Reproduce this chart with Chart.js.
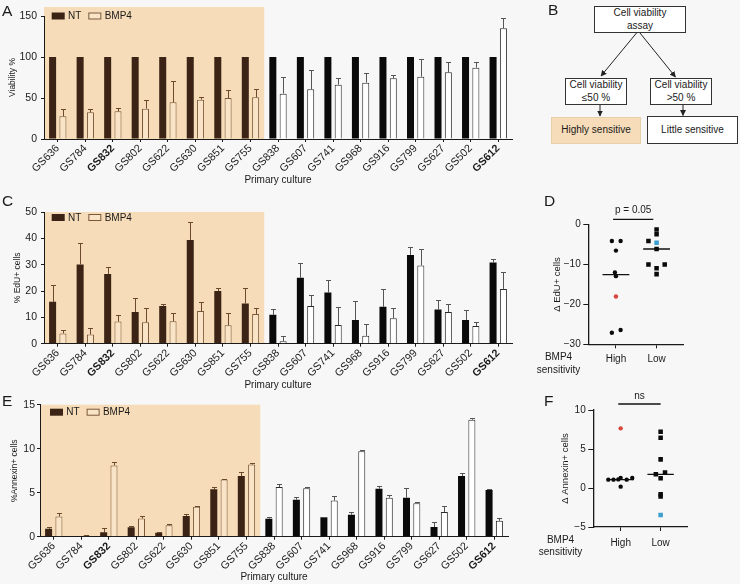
<!DOCTYPE html>
<html><head><meta charset="utf-8">
<script src="https://cdn.jsdelivr.net/npm/chart.js@4.4.0/dist/chart.umd.min.js"></script>
<style>
html,body{margin:0;padding:0;background:#f7f7f7;}
#wrap{position:relative;width:740px;height:584px;overflow:hidden;font-family:"Liberation Sans",Arial,Helvetica,sans-serif;color:#1a1a1a;}
canvas{position:absolute;}
.pl{position:absolute;font-size:15.5px;line-height:1;}
.box{position:absolute;border:1px solid #333;box-sizing:border-box;font-size:10px;line-height:1.24;text-align:center;display:flex;align-items:center;justify-content:center;background:#fff;}
.sens{position:absolute;font-size:10px;line-height:13px;text-align:center;width:60px;}
</style></head>
<body><div id="wrap">
<canvas id="cA" width="520" height="192" style="left:0;top:0"></canvas>
<canvas id="cC" width="520" height="200" style="left:0;top:196px"></canvas>
<canvas id="cE" width="516" height="192" style="left:0;top:392px"></canvas>
<canvas id="cD" width="210" height="190" style="left:530px;top:196px"></canvas>
<canvas id="cF" width="210" height="192" style="left:530px;top:392px"></canvas>

<div class="pl" style="left:2px;top:3px">A</div>
<div class="pl" style="left:548px;top:1.5px">B</div>
<div class="pl" style="left:2px;top:193px">C</div>
<div class="pl" style="left:544px;top:193px">D</div>
<div class="pl" style="left:2px;top:393px">E</div>
<div class="pl" style="left:544px;top:393px">F</div>

<div class="box" style="left:594px;top:6px;width:92px;height:27px">Cell viability<br>assay</div>
<div class="box" style="left:565px;top:78px;width:62px;height:27px">Cell viability<br>≤50 %</div>
<div class="box" style="left:650px;top:78px;width:62px;height:27px">Cell viability<br>&gt;50 %</div>
<div class="box" style="left:551px;top:117px;width:90px;height:27px;background:#f6dcb8;border-color:#ead0aa">Highly sensitive</div>
<div class="box" style="left:647px;top:116px;width:91px;height:28px">Little sensitive</div>
<svg style="position:absolute;left:0;top:0" width="740" height="584">
<defs><marker id="ah" markerWidth="6" markerHeight="6" refX="5.5" refY="3" orient="auto" markerUnits="userSpaceOnUse"><path d="M0,0 L6,3 L0,6 z" fill="#222"/></marker></defs>
<line x1="636.5" y1="33" x2="601" y2="76" stroke="#222" stroke-width="1" marker-end="url(#ah)"/>
<line x1="640" y1="33" x2="675.5" y2="77" stroke="#222" stroke-width="1" marker-end="url(#ah)"/>
<line x1="600" y1="105" x2="600" y2="116" stroke="#222" stroke-width="1" marker-end="url(#ah)"/>
<line x1="683" y1="105" x2="683" y2="115.5" stroke="#222" stroke-width="1" marker-end="url(#ah)"/>
</svg>

<div class="sens" style="left:528.5px;top:350px">BMP4<br>sensitivity</div>
<div class="sens" style="left:530.5px;top:534px;line-height:12px">BMP4<br>sensitivity</div>
</div>
<script>
// ---------------- data ----------------
const cultures = ['GS636','GS784','GS832','GS802','GS622','GS630','GS851','GS755','GS838','GS607','GS741','GS968','GS916','GS799','GS627','GS502','GS612'];
const boldCultures = ['GS832','GS612'];
const highlySensitiveCultures = ['GS636','GS784','GS832','GS802','GS622','GS630','GS851','GS755'];
const seriesNames = ['NT','BMP4'];

const viabilityNT      = [100,100,100,100,100,100,100,100,100,100,100,100,100,100,100,100,100];
const viabilityBMP4    = [27.6,32.5,33.7,37,44.7,48,50,50.8,55.3,60.6,66.3,68.7,74,76,81.3,87,135];
const viabilityBMP4Err = [9.5,4.5,3.5,10,26,3,10,10.5,20,24,8,12,4,21.5,13,6.5,12];

const eduNT      = [15.9,30.1,26.5,12,14.3,39.4,20,15.3,11,25,19.4,9,14,33.7,13,9,30.8];
const eduNTErr   = [6.4,8.3,2.6,5.2,0.9,6.8,1,5.7,2.2,5.5,4.6,7.2,6.6,3.1,3.6,3.7,1.2];
const eduBMP4    = [3.9,3.5,8.4,8.1,8.5,12.4,7,11.3,0.9,14.3,7.1,3,9.7,29.7,12,6.7,20.8];
const eduBMP4Err = [1.2,2.3,2.4,5.6,3.3,3.5,4.5,2.1,2,4.1,6.7,4.3,3.7,6.1,2.9,1.4,6.4];

const annexinNT      = [0.9,0,0.5,1.06,0.45,2.35,5.4,6.9,2.05,4.2,2.2,2.5,5.45,4.43,1.1,6.9,5.3];
const annexinNTErr   = [0.2,0,0.5,0.14,0.08,0.19,0.3,0.45,0.22,0.35,0.07,0.3,0.31,1.07,0.53,0.3,0.1];
const annexinBMP4    = [2.3,0.15,8.1,2.08,1.29,3.4,6.5,8.2,5.64,5.5,4.1,9.7,4.43,3.8,2.8,13.3,1.8];
const annexinBMP4Err = [0.35,0.05,0.35,0.32,0.11,0.12,0.1,0.2,0.31,0.2,0.5,0.2,0.27,0.1,0.7,0.15,0.36];

const sensitivityGroups = ['High','Low'];
// Panel D: delta EdU+ cells (x = horizontal position: High group at 1, Low group at 2)
const dEduHighX = [0.9,1.115,1.0,0.975,1.0,1.0,0.9,1.115];
const dEduHighY = [-4.1,-4.1,-6.5,-12.0,-12.9,-18.0,-27.1,-26.4];
const dEduHighMarked = 5;               // GS832 (red)
const dEduLowX  = [2.0,2.0,1.8,2.0,2.0,1.8,2.2,2.0,2.0];
const dEduLowY  = [-1.2,-2.4,-4.1,-4.5,-6.1,-10,-10,-10.9,-12.4];
const dEduLowMarked = 3;                // GS612 (blue)
const dEduMedians = [-12.5,-6.1];
const dEduTicks = [0,-10,-20,-30];
const dEduSig = {text:'p = 0.05', y:1.34, x1:0.93, x2:1.92, textY:3.5};

// Panel F: delta Annexin+ cells
const dAnnHighX = [0.69,0.82,0.94,1.0,1.15,1.29,1.0,1.0];
const dAnnHighY = [1.07,1.07,1.1,1.3,1.07,1.28,0.17,7.65];
const dAnnHighMarked = 7;
const dAnnLowX  = [2,2,2,1.88,2.11,2,2,2,2];
const dAnnLowY  = [7.2,6.45,3.67,1.75,1.97,1.24,-0.8,-1.1,-3.46];
const dAnnLowMarked = 8;
const dAnnMedians = [1.07,1.75];
const dAnnTicks = [10,5,0,-5];
const dAnnSig = {text:'ns', y:10.77, x1:0.94, x2:2.0, textY:11.75};

// ---------------- styling ----------------
const FONT = '"Liberation Sans", Arial, Helvetica, sans-serif';
const COL = {shade:'#f6dcb8', ntIn:'#3b2415', ntOut:'#0a0a0a', bmpFillIn:'#f9e4c8', bmpBorderIn:'#7a5738',
  bmpFillOut:'#ffffff', bmpBorderOut:'#2a2a2a', errIn:'#6b4a30', errOut:'#555555', axis:'#1a1a1a', text:'#1a1a1a',
  red:'#d8453a', blue:'#3b9fd0'};
const isIn = c => highlySensitiveCultures.includes(c);
const lastInIndex = cultures.reduce((m,c,i)=> isIn(c)? i : m, -1);

const shadePlugin = {id:'shade', beforeDraw(chart, args, o){
  const {ctx, chartArea:a, scales:{x,y}} = chart;
  const xr = (x.getPixelForValue(o.lastIndex) + x.getPixelForValue(o.lastIndex+1))/2;
  const yt = y.getPixelForValue(o.top);
  ctx.save(); ctx.fillStyle = o.color; ctx.fillRect(a.left, yt, xr - a.left, a.bottom - yt); ctx.restore();
}};
const errPlugin = {id:'errbars', afterDatasetsDraw(chart){
  const {ctx, scales:{y}} = chart;
  chart.data.datasets.forEach((ds, di) => {
    if (!ds.errors) return;
    chart.getDatasetMeta(di).data.forEach((el, i) => {
      const e = ds.errors[i]; if (!e) return;
      const yt = Math.round(y.getPixelForValue(ds.data[i] + e)) + 0.5;
      const x = Math.round(el.x) + 0.5;
      ctx.save(); ctx.strokeStyle = ds.errColors[i]; ctx.lineWidth = 1;
      ctx.beginPath(); ctx.moveTo(x, el.y); ctx.lineTo(x, yt);
      ctx.moveTo(x - 2.5, yt); ctx.lineTo(x + 2.5, yt); ctx.stroke(); ctx.restore();
    });
  });
}};
const legendPlugin = {id:'miniLegend', afterDraw(chart, args, o){
  const {ctx, chartArea:a} = chart;
  let x = a.left + o.dx; const yc = a.top + o.dy;
  ctx.save(); ctx.font = '10px ' + FONT; ctx.textBaseline = 'middle';
  chart.data.datasets.forEach(ds => {
    ctx.fillStyle = ds.legendFill; ctx.fillRect(x, yc - 3.5, 13, 7);
    if (ds.legendStroke){ ctx.strokeStyle = ds.legendStroke; ctx.lineWidth = 1; ctx.strokeRect(x + 0.5, yc - 3, 12, 6); }
    ctx.fillStyle = COL.text; ctx.fillText(ds.label, x + 16.3, yc + 0.5);
    x += 16.3 + ctx.measureText(ds.label).width + 7;
  });
  ctx.restore();
}};

function barPanel(id, c){
  new Chart(document.getElementById(id), {
    type:'bar',
    data:{labels:cultures, datasets:[
      {label:seriesNames[0], data:c.nt, errors:c.ntErr,
       backgroundColor:cultures.map(k => isIn(k) ? COL.ntIn : COL.ntOut), borderWidth:0,
       errColors:cultures.map(k => isIn(k) ? COL.errIn : COL.errOut),
       legendFill:COL.ntIn, categoryPercentage:0.75, barPercentage:0.68},
      {label:seriesNames[1], data:c.bmp, errors:c.bmpErr,
       backgroundColor:cultures.map(k => isIn(k) ? COL.bmpFillIn : COL.bmpFillOut),
       borderColor:cultures.map(k => isIn(k) ? COL.bmpBorderIn : COL.bmpBorderOut), borderWidth:1,
       errColors:cultures.map(k => isIn(k) ? COL.errIn : COL.errOut),
       legendFill:COL.bmpFillIn, legendStroke:COL.bmpBorderIn, categoryPercentage:0.75, barPercentage:0.68}
    ]},
    options:{responsive:false, animation:false, events:[],
      layout:{padding:{left:0, top:c.padTop, right:c.padRight, bottom:0}},
      plugins:{legend:{display:false}, tooltip:{enabled:false},
        shade:{lastIndex:lastInIndex, top:c.shadeTop, color:COL.shade},
        miniLegend:{dx:c.legDx, dy:c.legDy}},
      scales:{
        x:{grid:{display:true, drawOnChartArea:false, drawTicks:true, tickLength:3, offset:false, color:COL.axis},
           border:{color:COL.axis, width:1},
           ticks:{minRotation:45, maxRotation:45, autoSkip:false, padding:0, color:COL.text,
             font:(ctx) => ({family:FONT, size:10.8, weight: boldCultures.includes(cultures[ctx.index]) ? 'bold' : 'normal'})},
           title:{display:true, text:'Primary culture', color:COL.text, font:{family:FONT, size:10}, padding:{top:0, bottom:c.xTitlePad}},
           afterFit:(s) => { s.height = c.xH; s.paddingLeft = 0; s.paddingRight = 0; }},
        y:{min:0, max:c.max,
           ticks:{stepSize:c.step, padding:c.tickPad, color:COL.text, font:{family:FONT, size:10.5}},
           grid:{drawOnChartArea:false, drawTicks:true, tickLength:3, color:COL.axis},
           border:{color:COL.axis, width:1},
           title:{display:true, text:c.yTitle, color:COL.text, font:{family:FONT, size:8.5}, padding:{top:c.yTitlePad, bottom:0}},
           afterFit:(s) => { s.width = c.yW; s.paddingTop = 0; s.paddingBottom = 0; }}
      }},
    plugins:[shadePlugin, errPlugin, legendPlugin]
  });
}

barPanel('cA', {nt:viabilityNT, ntErr:null, bmp:viabilityBMP4, bmpErr:viabilityBMP4Err,
  max:150, step:50, yTitle:'Viability %', padTop:16, padRight:8, yW:44, xH:53, xTitlePad:6, yTitlePad:8,
  tickPad:4, shadeTop:161, legDx:7.7, legDy:0});
barPanel('cC', {nt:eduNT, ntErr:eduNTErr, bmp:eduBMP4, bmpErr:eduBMP4Err,
  max:50, step:10, yTitle:'% EdU+ cells', padTop:16, padRight:8, yW:44, xH:52.3, xTitlePad:5, yTitlePad:12.8,
  tickPad:4, shadeTop:50, legDx:7.7, legDy:5.5});
barPanel('cE', {nt:annexinNT, ntErr:annexinNTErr, bmp:annexinBMP4, bmpErr:annexinBMP4Err,
  max:15, step:5, yTitle:'%Annexin+ cells', padTop:12.7, padRight:8, yW:40, xH:47.3, xTitlePad:1, yTitlePad:10,
  tickPad:2, shadeTop:15, legDx:10, legDy:7.5});

const sigPlugin = {id:'sigText', afterDraw(chart, args, o){
  const {ctx, scales:{x,y}} = chart;
  ctx.save(); ctx.font = '10px ' + FONT; ctx.fillStyle = COL.text; ctx.textAlign = 'center'; ctx.textBaseline = 'middle';
  ctx.fillText(o.text, x.getPixelForValue((o.x1 + o.x2)/2), y.getPixelForValue(o.textY)); ctx.restore();
}};
const minus = v => v < 0 ? '\u2212' + Math.abs(v) : String(v);

function scatterPanel(id, c){
  const pts = (xs, ys) => xs.map((x, i) => ({x, y:ys[i]}));
  const med = (g, v) => [{x:g - 0.33, y:v}, {x:g + 0.33, y:v}];
  new Chart(document.getElementById(id), {
    type:'scatter',
    data:{datasets:[
      {data:pts(c.hx, c.hy), pointStyle:'circle', pointRadius:2.2, borderWidth:0,
       backgroundColor:(ctx) => ctx.dataIndex === c.hMark ? COL.red : '#0a0a0a'},
      {data:pts(c.lx, c.ly), pointStyle:'rect', pointRadius:3.2, borderWidth:0,
       backgroundColor:(ctx) => ctx.dataIndex === c.lMark ? COL.blue : '#0a0a0a'},
      {data:med(1, c.med[0]), showLine:true, borderColor:'#111', borderWidth:1.3, pointRadius:0},
      {data:med(2, c.med[1]), showLine:true, borderColor:'#111', borderWidth:1.3, pointRadius:0},
      {data:[{x:c.sig.x1, y:c.sig.y}, {x:c.sig.x2, y:c.sig.y}], showLine:true, borderColor:'#111', borderWidth:1.4, pointRadius:0, clip:false}
    ]},
    options:{responsive:false, animation:false, events:[],
      layout:{padding:{left:0, top:c.padTop, right:c.padRight, bottom:0}},
      plugins:{legend:{display:false}, tooltip:{enabled:false}, sigText:c.sig},
      scales:{
        x:{type:'linear', min:c.xmin, max:c.xmax,
           afterBuildTicks:(s) => { s.ticks = sensitivityGroups.map((g, i) => ({value:i + 1})); },
           ticks:{callback:(v, i) => sensitivityGroups[i], color:COL.text, font:{family:FONT, size:10}, padding:c.xTickPad},
           grid:{drawOnChartArea:false, drawTicks:true, tickLength:4, color:COL.axis},
           border:{color:COL.axis, width:1.3},
           afterFit:(s) => { s.height = c.xH; s.paddingLeft = 0; s.paddingRight = 0; }},
        y:{min:c.ymin, max:c.ymax,
           afterBuildTicks:(s) => { s.ticks = c.ticks.map(v => ({value:v})); },
           ticks:{callback:(v) => minus(v), color:COL.text, font:{family:FONT, size:10}, padding:2.6},
           grid:{drawOnChartArea:false, drawTicks:true, tickLength:5, color:COL.axis},
           border:{color:COL.axis, width:1.3},
           title:{display:true, text:c.yTitle, color:COL.text, font:{family:FONT, size:9.5}, padding:{top:c.yTitlePad, bottom:0}},
           afterFit:(s) => { s.width = c.yW; s.paddingTop = 0; s.paddingBottom = 0; }}
      }},
    plugins:[sigPlugin]
  });
}

scatterPanel('cD', {hx:dEduHighX, hy:dEduHighY, hMark:dEduHighMarked, lx:dEduLowX, ly:dEduLowY, lMark:dEduLowMarked,
  med:dEduMedians, sig:dEduSig, ticks:dEduTicks, ymin:-30, ymax:0, xmin:0.32, xmax:2.65,
  yTitle:'\u0394 EdU+ cells', padTop:28.7, padRight:57, yW:58.3, xH:41.7, xTickPad:4.7, yTitlePad:21.3});
scatterPanel('cF', {hx:dAnnHighX, hy:dAnnHighY, hMark:dAnnHighMarked, lx:dAnnLowX, ly:dAnnLowY, lMark:dAnnLowMarked,
  med:dAnnMedians, sig:dAnnSig, ticks:dAnnTicks, ymin:-5, ymax:10, xmin:0.315, xmax:2.66,
  yTitle:'\u0394 Annexin+ cells', padTop:18, padRight:53, yW:63.3, xH:57, xTickPad:6, yTitlePad:29.3});
</script>
</body></html>
